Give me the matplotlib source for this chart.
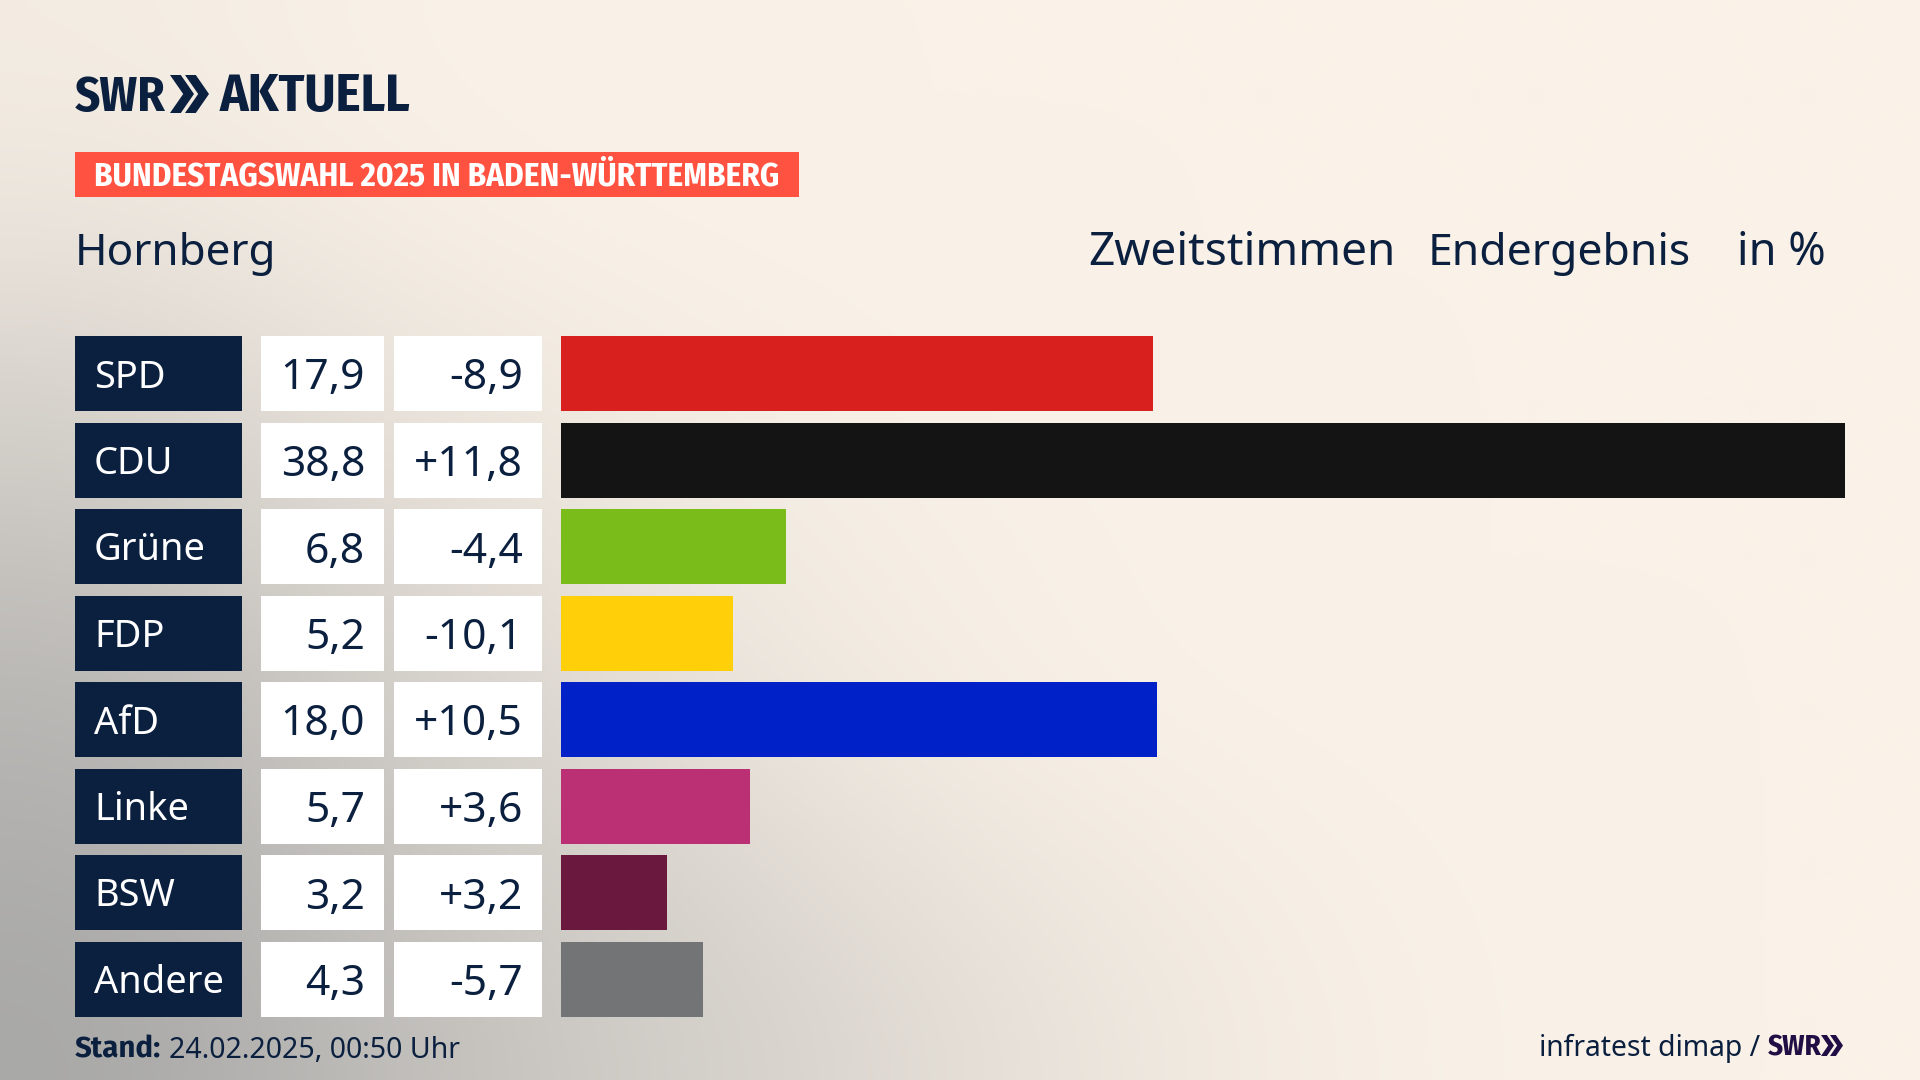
import numpy as np
import matplotlib
matplotlib.use('Agg')
import matplotlib.pyplot as plt
from matplotlib.patches import Rectangle, Polygon

# Wahlergebnis Hornberg
parties = ['SPD', 'CDU', 'Grüne', 'FDP', 'AfD', 'Linke', 'BSW', 'Andere']
results = [17.9, 38.8, 6.8, 5.2, 18.0, 5.7, 3.2, 4.3]
changes = ['-8,9', '+11,8', '-4,4', '-10,1', '+10,5', '+3,6', '+3,2', '-5,7']
party_colors = ['#d8201f', '#141414', '#7abd1a', '#ffcf0a', '#0020c8',
                '#bb3074', '#6a183e', '#737475']

navy = '#0b1f3f'
plt.rcParams['font.family'] = ['Noto Sans', 'DejaVu Sans']
condensed = ['Fira Sans Condensed', 'Liberation Sans']
bold_body = ['Fira Sans', 'Lato']

fig = plt.figure(figsize=(19.2, 10.8), dpi=100)

# background, coarse grey share per region
bg_share = np.array([
    [0.08, 0.00, 0.00, 0.00, 0.00, 0.00, 0.00],
    [0.20, 0.04, 0.00, 0.00, 0.00, 0.00, 0.00],
    [0.42, 0.18, 0.06, 0.00, 0.00, 0.00, 0.00],
    [0.62, 0.30, 0.12, 0.03, 0.00, 0.00, 0.00],
    [0.80, 0.46, 0.22, 0.04, 0.00, 0.00, 0.00],
    [0.92, 0.58, 0.38, 0.16, 0.04, 0.00, 0.00],
    [1.00, 0.68, 0.48, 0.28, 0.08, 0.00, 0.00],
])
cream = np.array([250, 242, 232]) / 255
grey = np.array([168, 168, 167]) / 255
bg_ax = fig.add_axes([0, 0, 1, 1])
bg_ax.axis('off')
share = bg_share[..., None]
bg_ax.imshow(cream * (1 - share) + grey * share, extent=[0, 1920, 1080, 0],
             aspect='auto', interpolation='bicubic')

# bars, 0..38,8 spans 561..1845 px
row_top = 336
row_h = 75
row_step = 86.5
bar_ax = fig.add_axes([561 / 1920, 0, (1845 - 561) / 1920, 1], zorder=2)
bar_ax.patch.set_alpha(0)
bar_ax.axis('off')
bar_ax.set_xlim(0, 38.8)
bar_ax.set_ylim((1080 - row_top - row_h / 2) / row_step, -(row_top + row_h / 2) / row_step)
bar_ax.barh(range(len(parties)), results, height=row_h / row_step, color=party_colors)

# everything else placed in pixels
ax = fig.add_axes([0, 0, 1, 1], zorder=3)
ax.patch.set_alpha(0)
ax.axis('off')
ax.set_xlim(0, 1920)
ax.set_ylim(1080, 0)


def px(size):
    return size * 0.72


def chevrons(x, y, h, w, gap, color):
    mid = y + h / 2
    for i in range(2):
        x0 = x + i * gap
        ax.add_patch(Polygon([(x0, y), (x0 + w * 0.45, y), (x0 + w, mid),
                              (x0 + w * 0.45, y + h), (x0, y + h), (x0 + w * 0.55, mid)],
                             closed=True, color=color, lw=0))


# header
ax.text(75, 111, 'SWR', fontsize=px(49), fontweight='bold', family=condensed, color=navy)
chevrons(170, 75, 38, 24, 15, navy)
ax.text(220, 111, 'AKTUELL', fontsize=px(53), fontweight='bold', family=condensed, color=navy)
ax.add_patch(Rectangle((75, 152), 724, 45, color='#ff5240', lw=0))
ax.text(94, 185, 'BUNDESTAGSWAHL 2025 IN BADEN-WÜRTTEMBERG', fontsize=px(33), fontweight='bold',
        family=condensed, color='white')
ax.text(75, 265, 'Hornberg', fontsize=px(44), color=navy)
ax.text(1088, 265, 'Zweitstimmen', fontsize=px(46), color=navy)
ax.text(1428, 265, 'Endergebnis', fontsize=px(44.5), color=navy)
ax.text(1826, 265, 'in %', fontsize=px(45), color=navy, ha='right')

# table rows
for i, party in enumerate(parties):
    top = row_top + i * row_step
    mid = top + row_h / 2
    ax.add_patch(Rectangle((75, top), 167, row_h, color=navy, lw=0))
    ax.add_patch(Rectangle((261, top), 123, row_h, color='white', lw=0))
    ax.add_patch(Rectangle((394, top), 148, row_h, color='white', lw=0))
    ax.text(94, mid + 14, party, fontsize=px(38), color='white')
    ax.text(365, mid + 16, f'{results[i]:.1f}'.replace('.', ','), fontsize=px(42.5), color=navy, ha='right')
    ax.text(523, mid + 16, changes[i], fontsize=px(42.5), color=navy, ha='right')

# footer
ax.text(75, 1058, 'Stand:', fontsize=px(29.5), fontweight='bold', family=bold_body, color=navy)
ax.text(169, 1058, '24.02.2025, 00:50 Uhr', fontsize=px(28.5), color=navy)
ax.text(1760, 1056, 'infratest dimap /', fontsize=px(28.3), color=navy, ha='right')
ax.text(1768, 1056, 'SWR', fontsize=px(29), fontweight='bold', family=condensed, color='#1f0f45')
chevrons(1821, 1035, 21, 13, 9, '#1f0f45')

fig.savefig('out.png', dpi=100)
